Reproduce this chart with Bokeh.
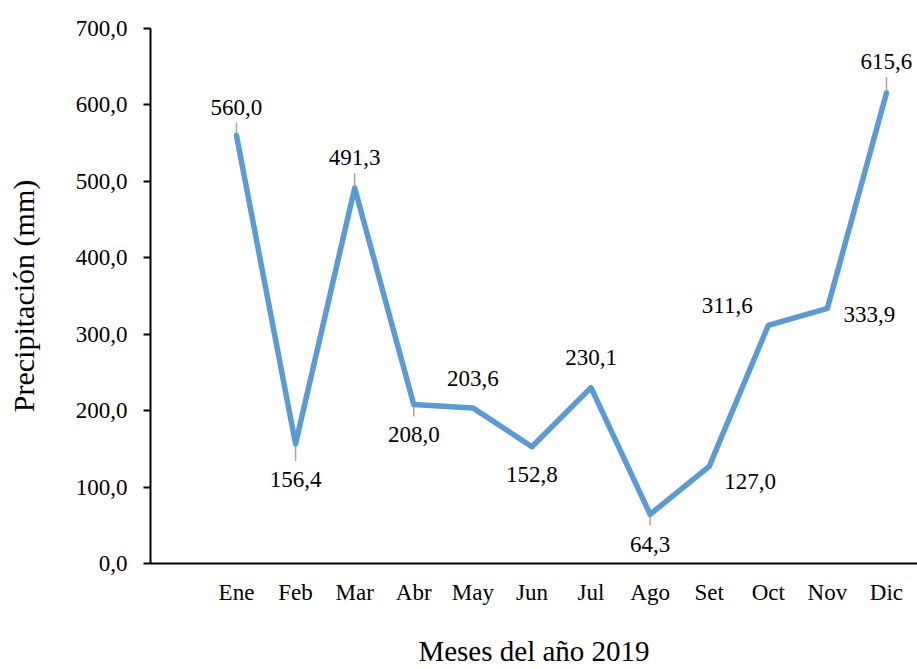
from bokeh.plotting import figure
from bokeh.models import ColumnDataSource, FixedTicker, Range1d, LabelSet
from bokeh.core.properties import value
from bokeh.embed import file_html
from bokeh.resources import INLINE

# ---- data ----
months = ["Ene", "Feb", "Mar", "Abr", "May", "Jun", "Jul", "Ago", "Set", "Oct", "Nov", "Dic"]
precip = [560.0, 156.4, 491.3, 208.0, 203.6, 152.8, 230.1, 64.3, 127.0, 311.6, 333.9, 615.6]
y_ticks = [0, 100, 200, 300, 400, 500, 600, 700]
y_tick_labels = ["0,0", "100,0", "200,0", "300,0", "400,0", "500,0", "600,0", "700,0"]

# ---- label placement (screen px, relative to point; positive dy = down) ----
label_dx = [0, 0, 0, 0, 0, 0, 0, 0, 41, -41, 42, 0]
label_dy = [-28, 36, -31, 30, -29, 28, -30, 30, 15, -20, 6, -32]
# leader lines: (month index, px start, px end) relative to point, screen y-down
leaders = [(0, -13, 0), (1, 0, 17), (2, -15, 0), (3, 0, 12), (7, 0, 11), (11, -16, 0)]

FONT = "Liberation Serif"
W, H = 917, 669
left, right, top, bottom = 150, 0, 28, 104
frame_h = H - top - bottom
ymax = 700
px_per_unit = frame_h / ymax

xs = list(range(len(months)))
p = figure(width=W, height=H, output_backend="svg", toolbar_location=None,
           x_range=Range1d(-1.455, 11.525), y_range=Range1d(0, ymax),
           min_border_left=left, min_border_right=right,
           min_border_top=top, min_border_bottom=bottom)
p.outline_line_color = None
p.xgrid.visible = False
p.ygrid.visible = False
p.background_fill_color = "white"
p.border_fill_color = "white"

# leaders
lx, ly0, ly1 = [], [], []
for i, a, b in leaders:
    lx.append(xs[i])
    ly0.append(precip[i] - a / px_per_unit)
    ly1.append(precip[i] - b / px_per_unit)
p.segment(x0=lx, y0=ly0, x1=lx, y1=ly1, line_color="#A6A6A6", line_width=1.5)

p.line(xs, precip, line_color="#5B9BD5", line_width=5.5, line_join="round", line_cap="round")

src = ColumnDataSource(dict(
    x=xs, y=precip,
    label=[f"{v:.1f}".replace(".", ",") for v in precip],
    dx=label_dx, dy=[-d for d in label_dy],
))
labels = LabelSet(x="x", y="y", text="label", x_offset="dx", y_offset="dy", source=src,
                  text_align="center", text_baseline="middle",
                  text_font=value(FONT), text_font_size="23px", text_color="black")
p.add_layout(labels)

# x axis
p.xaxis.ticker = FixedTicker(ticks=xs)
p.xaxis.major_label_overrides = {i: m for i, m in zip(xs, months)}
p.xaxis.major_tick_out = 0
p.xaxis.major_tick_in = 0
p.xaxis.minor_tick_out = 0
p.xaxis.minor_tick_in = 0
p.xaxis.axis_line_width = 2
p.xaxis.axis_line_color = "black"
p.xaxis.major_label_standoff = 16
p.xaxis.major_label_text_font = FONT
p.xaxis.major_label_text_font_size = "23px"
p.xaxis.major_label_text_color = "black"
p.xaxis.axis_label = "Meses del año 2019"
p.xaxis.axis_label_text_font = FONT
p.xaxis.axis_label_text_font_size = "29px"
p.xaxis.axis_label_text_font_style = "normal"
p.xaxis.axis_label_text_color = "black"
p.xaxis.axis_label_standoff = 27

# y axis
p.yaxis.ticker = FixedTicker(ticks=y_ticks)
p.yaxis.major_label_overrides = {t: l for t, l in zip(y_ticks, y_tick_labels)}
p.yaxis.major_tick_out = 7
p.yaxis.major_tick_in = 0
p.yaxis.minor_tick_out = 0
p.yaxis.minor_tick_in = 0
p.yaxis.major_tick_line_width = 2
p.yaxis.major_tick_line_color = "black"
p.yaxis.axis_line_width = 2
p.yaxis.axis_line_color = "black"
p.yaxis.major_label_standoff = 16
p.yaxis.major_label_text_font = FONT
p.yaxis.major_label_text_font_size = "23px"
p.yaxis.major_label_text_color = "black"
p.yaxis.axis_label = "Precipitación (mm)"
p.yaxis.axis_label_text_font = FONT
p.yaxis.axis_label_text_font_size = "30px"
p.yaxis.axis_label_text_font_style = "normal"
p.yaxis.axis_label_text_color = "black"
p.yaxis.axis_label_standoff = 33

open("out.html", "w").write(file_html(p, INLINE))
